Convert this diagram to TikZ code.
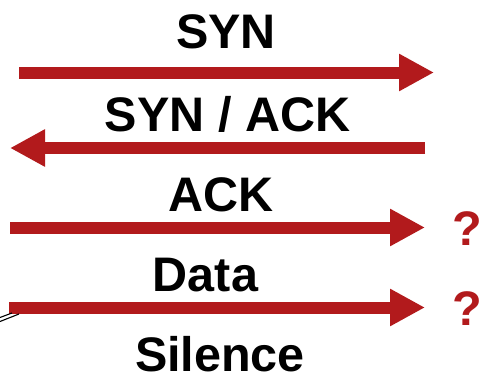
\documentclass[tikz,border=0pt]{standalone}
\usepackage{fontspec}
\setmainfont{Liberation Sans}
\usetikzlibrary{arrows.meta}
\definecolor{msgred}{RGB}{178,26,28}
\tikzset{
  msg/.style={draw=msgred, line width=12pt,
    -{Triangle[length=35pt,width=35pt]}},
  lbl/.style={font=\fontsize{48.5}{56}\selectfont\bfseries, inner sep=0pt, anchor=base},
  qmark/.style={lbl, text=msgred},
  wire/.style={draw=black, line width=1.1pt}
}
\begin{document}
\begin{tikzpicture}[x=1pt,y=-1pt]
  \useasboundingbox (0,0) rectangle (480,375);
  % message end points
  \coordinate (s1) at (19,72.5);   \coordinate (e1) at (434,72.5);
  \coordinate (s2) at (425,148);   \coordinate (e2) at (10,148);
  \coordinate (s3) at (10,227.5);  \coordinate (e3) at (425,227.5);
  \coordinate (s4) at (9,307.5);   \coordinate (e4) at (425,307.5);
  % messages
  \draw[msg] (s1) -- (e1);
  \draw[msg] (s2) -- (e2);
  \draw[msg] (s3) -- (e3);
  \draw[msg] (s4) -- (e4);
  % labels
  \node[lbl] (syn)    at (226,48)    {SYN};
  \node[lbl] (synack) at (227.5,131.5) {SYN / ACK};
  \node[lbl] (ack)    at (221.5,211.5) {ACK};
  \node[lbl] (data)   at (205.5,291.5) {Data};
  \node[lbl] (sil)    at (220,371.5) {Silence};
  \node[qmark] (q1) at (467,245) {?};
  \node[qmark] (q2) at (467,325) {?};
  % lines entering from the left edge
  \coordinate (w1a) at (0,317.5); \coordinate (w1b) at (12,313);
  \coordinate (w2a) at (0,321.5); \coordinate (w2b) at (19,314);
  \draw[wire] (w1a) -- (w1b);
  \draw[wire] (w2a) -- (w2b);
\end{tikzpicture}
\end{document}
